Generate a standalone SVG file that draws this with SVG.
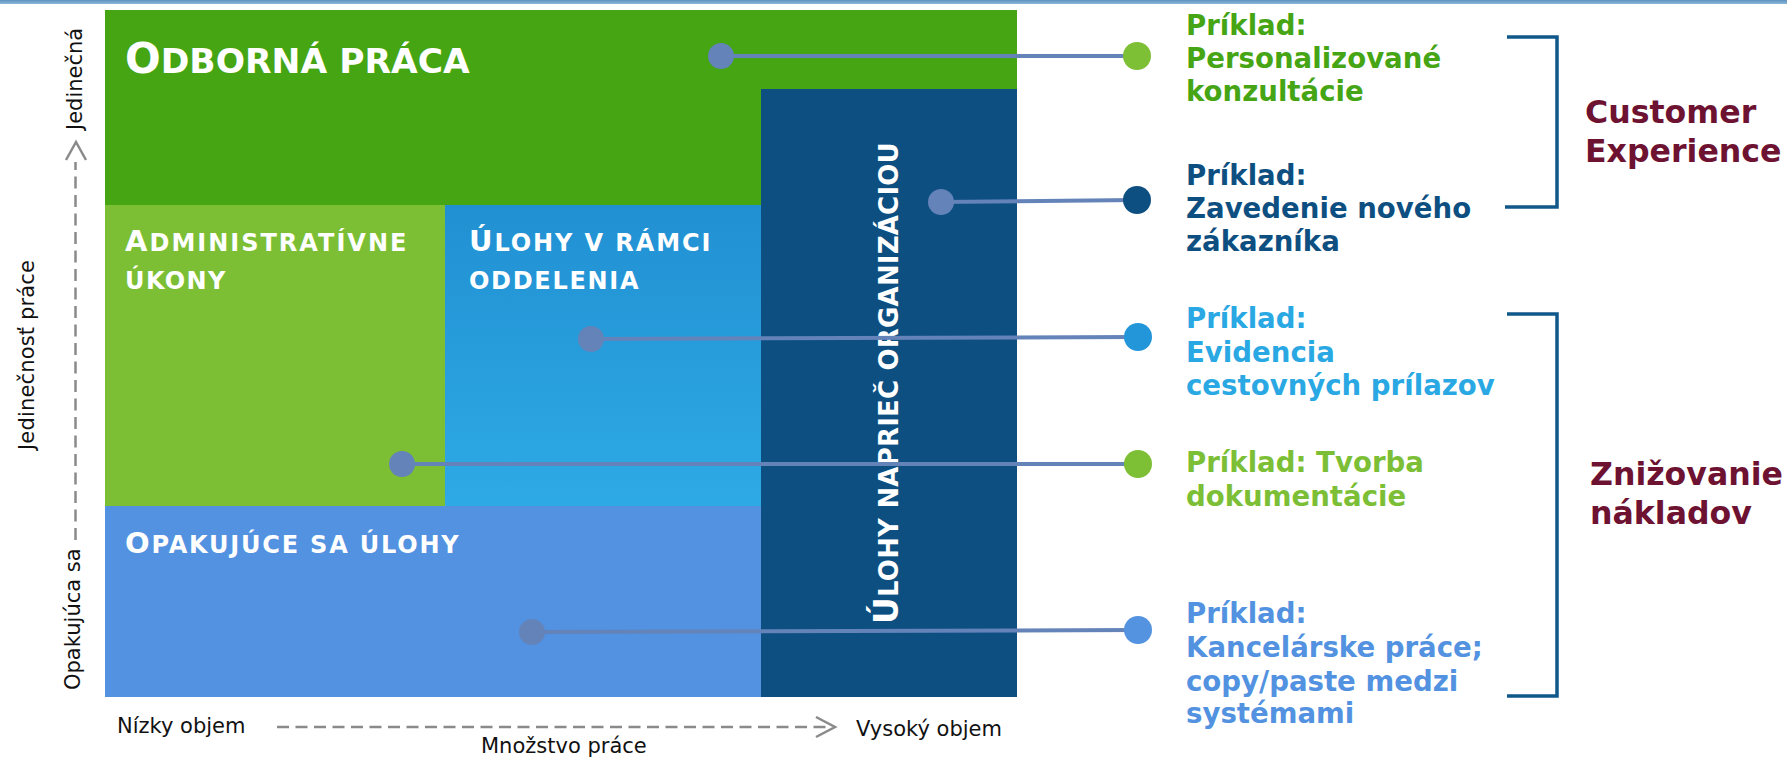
<svg xmlns="http://www.w3.org/2000/svg" width="1787" height="757" viewBox="0 0 1787 757">
<defs>
<linearGradient id="gBlue" x1="0" y1="0" x2="0" y2="1"><stop offset="0" stop-color="#2190d2"/><stop offset="1" stop-color="#2eaae6"/></linearGradient>
<linearGradient id="gTop" x1="0" y1="0" x2="0" y2="1"><stop offset="0" stop-color="#5a92c0"/><stop offset="1" stop-color="#8fb8d8"/></linearGradient>
</defs>
<style>
text{font-family:"DejaVu Sans",Verdana,sans-serif}
.box{fill:#ffffff;font-weight:bold}
.big{font-size:29px}
.sm{font-size:24px}
.ax{font-size:21px;fill:#111111}
.ex{font-size:27.6px;font-weight:bold}
.goal{font-size:31.6px;font-weight:bold;fill:#6e1232}
.dash{stroke:#8a8a8a;stroke-width:2.5;stroke-dasharray:12 6.5;fill:none}
.chev{stroke:#8a8a8a;stroke-width:2.5;fill:none}
.conn{stroke:#6383b9;stroke-width:4;fill:none}
.dot{fill:#6383b9}
.br{fill:none;stroke:#11588a;stroke-width:3.5}
</style>
<rect x="0" y="0" width="1787" height="757" fill="#ffffff"/>
<rect x="0" y="0" width="1787" height="4" fill="url(#gTop)"/>

<g id="n-odborna">
<rect x="105" y="10" width="912" height="195" fill="#45a512"/>
<text class="box" x="125" y="73"><tspan font-size="42">O</tspan><tspan font-size="34.5">DBORNÁ PRÁCA</tspan></text>
</g>
<g id="n-administrativne">
<rect x="105" y="205" width="340" height="301" fill="#7cbf35"/>
<text class="box" x="125" y="251" letter-spacing="2"><tspan class="big">A</tspan><tspan class="sm">DMINISTRATÍVNE</tspan></text>
<text class="box sm" x="125" y="289" letter-spacing="1.4">ÚKONY</text>
</g>
<g id="n-oddelenie">
<rect x="445" y="205" width="316" height="301" fill="url(#gBlue)"/>
<text class="box" x="469" y="251" letter-spacing="1.9"><tspan class="big">Ú</tspan><tspan class="sm">LOHY V RÁMCI</tspan></text>
<text class="box sm" x="469" y="289" letter-spacing="1.7">ODDELENIA</text>
</g>
<g id="n-opakujuce">
<rect x="105" y="506" width="656" height="191" fill="#5292e0"/>
<text class="box" x="125" y="553" letter-spacing="1.8"><tspan class="big">O</tspan><tspan class="sm">PAKUJÚCE SA ÚLOHY</tspan></text>
</g>
<g id="n-organizacia">
<rect x="761" y="89" width="256" height="608" fill="#0e4f82"/>
<text class="box" x="898" y="624" transform="rotate(-90 898 624)" letter-spacing="0.2"><tspan font-size="33">Ú</tspan><tspan font-size="26">LOHY NAPRIEČ ORGANIZÁCIOU</tspan></text>
</g>

<g id="axes">
<path class="dash" d="M75.5,540 V162"/>
<path class="chev" d="M66,160 L76,142 L86,160"/>
<text class="ax" x="82" y="130" transform="rotate(-90 82 130)">Jedinečná</text>
<text class="ax" x="80" y="690" transform="rotate(-90 80 690)">Opakujúca sa</text>
<text class="ax" x="33.5" y="450" transform="rotate(-90 33.5 450)" textLength="190">Jedinečnosť práce</text>
<path class="dash" d="M277,727 H832"/>
<path class="chev" d="M816,717 L835,727 L816,737"/>
<text class="ax" x="117" y="733">Nízky objem</text>
<text class="ax" x="856" y="736">Vysoký objem</text>
<text class="ax" x="481" y="753">Množstvo práce</text>
</g>

<g id="connectors">
<line class="conn" x1="721" y1="56" x2="1137" y2="56"/>
<line class="conn" x1="941" y1="202" x2="1137" y2="200"/>
<line class="conn" x1="591" y1="339" x2="1138" y2="337"/>
<line class="conn" x1="402" y1="464" x2="1138" y2="464"/>
<line class="conn" x1="532" y1="632" x2="1138" y2="630"/>
<circle class="dot" cx="721" cy="56" r="13"/>
<circle class="dot" cx="941" cy="202" r="13"/>
<circle class="dot" cx="591" cy="339" r="13"/>
<circle class="dot" cx="402" cy="464" r="13"/>
<circle class="dot" cx="532" cy="632" r="13"/>
<circle cx="1137" cy="56" r="14" fill="#7dbf35"/>
<circle cx="1137" cy="200" r="14" fill="#0e4f82"/>
<circle cx="1138" cy="337" r="14" fill="#2396d9"/>
<circle cx="1138" cy="464" r="14" fill="#7dbf35"/>
<circle cx="1138" cy="630" r="14" fill="#5393e0"/>
</g>

<g id="ex-konzultacie" fill="#46a514">
<text class="ex" x="1186" y="35">Príklad:</text>
<text class="ex" x="1186" y="68">Personalizované</text>
<text class="ex" x="1186" y="101">konzultácie</text>
</g>
<g id="ex-zakaznik" fill="#0e4f82">
<text class="ex" x="1186" y="185">Príklad:</text>
<text class="ex" x="1186" y="218">Zavedenie nového</text>
<text class="ex" x="1186" y="251">zákazníka</text>
</g>
<g id="ex-prilazy" fill="#2aa8e3">
<text class="ex" x="1186" y="328">Príklad:</text>
<text class="ex" x="1186" y="362">Evidencia</text>
<text class="ex" x="1186" y="395">cestovných prílazov</text>
</g>
<g id="ex-dokumentacia" fill="#7cbf36">
<text class="ex" x="1186" y="472">Príklad: Tvorba</text>
<text class="ex" x="1186" y="506">dokumentácie</text>
</g>
<g id="ex-kancelaria" fill="#5292e0">
<text class="ex" x="1186" y="623">Príklad:</text>
<text class="ex" x="1186" y="657">Kancelárske práce;</text>
<text class="ex" x="1186" y="691">copy/paste medzi</text>
<text class="ex" x="1186" y="723">systémami</text>
</g>

<g id="goal-customer">
<path class="br" d="M1507,37 H1557 V207 H1505"/>
<text class="goal" x="1585" y="123">Customer</text>
<text class="goal" x="1585" y="162">Experience</text>
</g>
<g id="goal-naklady">
<path class="br" d="M1507,314 H1557 V696 H1507"/>
<text class="goal" x="1590" y="485">Znižovanie</text>
<text class="goal" x="1590" y="524">nákladov</text>
</g>
</svg>
